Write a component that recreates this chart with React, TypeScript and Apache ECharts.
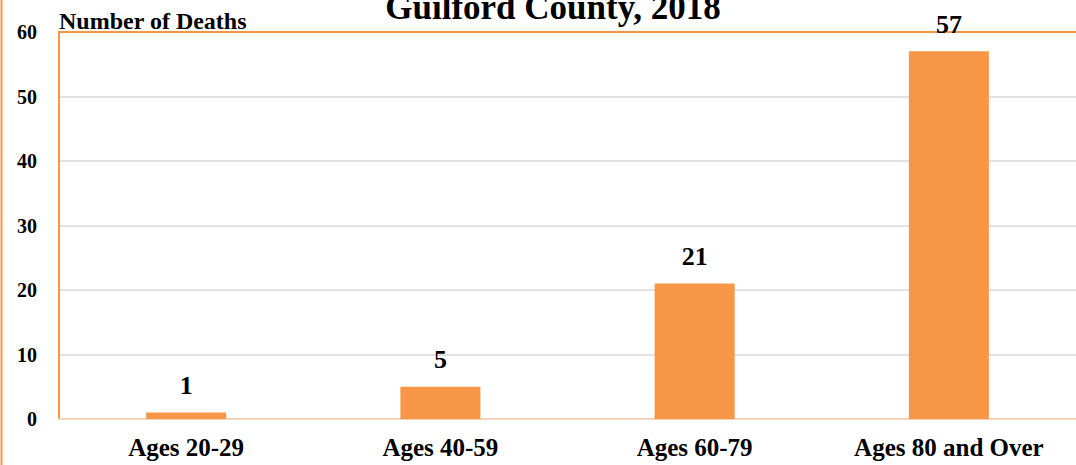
import React, { useEffect, useRef } from "react";
import * as echarts from "echarts";

const categories = ["Ages 20-29", "Ages 40-59", "Ages 60-79", "Ages 80 and Over"];
const deaths = [1, 5, 21, 57];
const titleText = "Guilford County, 2018";
const yAxisTitle = "Number of Deaths";

const ORANGE = "#F79646";
const SERIF = "'Liberation Serif', 'DejaVu Serif', serif";

export default function App() {
  const ref = useRef<HTMLDivElement>(null);
  useEffect(() => {
    const chart = echarts.init(ref.current!, null, { renderer: "svg" });
    chart.setOption({
      animation: false,
      backgroundColor: "#ffffff",
      grid: { left: 59, top: 32, right: -2, bottom: 46, containLabel: false },
      graphic: [
        {
          type: "line",
          shape: { x1: 1.5, y1: 0, x2: 1.5, y2: 465 },
          style: { stroke: ORANGE, lineWidth: 2 },
        },
        {
          type: "text",
          x: 553,
          y: 25,
          style: {
            text: titleText,
            font: `bold 35px ${SERIF}`,
            fill: "#000",
            textAlign: "center",
            textVerticalAlign: "bottom",
          },
        },
        {
          type: "text",
          x: 59,
          y: 33,
          style: {
            text: yAxisTitle,
            font: `bold 24px ${SERIF}`,
            fill: "#000",
            textAlign: "left",
            textVerticalAlign: "bottom",
          },
        },
      ],
      xAxis: [
        {
          type: "category",
          data: categories,
          axisLine: { lineStyle: { color: "#F3D3BA", width: 2 } },
          axisTick: { show: false },
          axisLabel: {
            color: "#000",
            fontFamily: SERIF,
            fontWeight: "bold",
            fontSize: 25,
            margin: 16,
          },
        },
        {
          type: "category",
          position: "top",
          data: categories,
          axisLine: { lineStyle: { color: ORANGE, width: 2 } },
          axisTick: { show: false },
          axisLabel: { show: false },
        },
      ],
      yAxis: {
        type: "value",
        min: 0,
        max: 60,
        interval: 10,
        axisLine: { show: true, lineStyle: { color: ORANGE, width: 2 } },
        axisTick: { show: false },
        splitLine: { lineStyle: { color: "#D9D9D9", width: 1.5 } },
        axisLabel: {
          color: "#000",
          fontFamily: SERIF,
          fontWeight: "bold",
          fontSize: 20,
          margin: 22,
        },
      },
      series: [
        {
          type: "bar",
          data: deaths,
          barWidth: 80,
          itemStyle: { color: ORANGE },
          label: {
            show: true,
            position: "top",
            distance: 14,
            color: "#000",
            fontFamily: SERIF,
            fontWeight: "bold",
            fontSize: 26,
          },
        },
      ],
    });
    return () => chart.dispose();
  }, []);
  return (
    <div
      ref={ref}
      style={{ position: "fixed", left: 0, top: 0, width: 1076, height: 465 }}
    />
  );
}
